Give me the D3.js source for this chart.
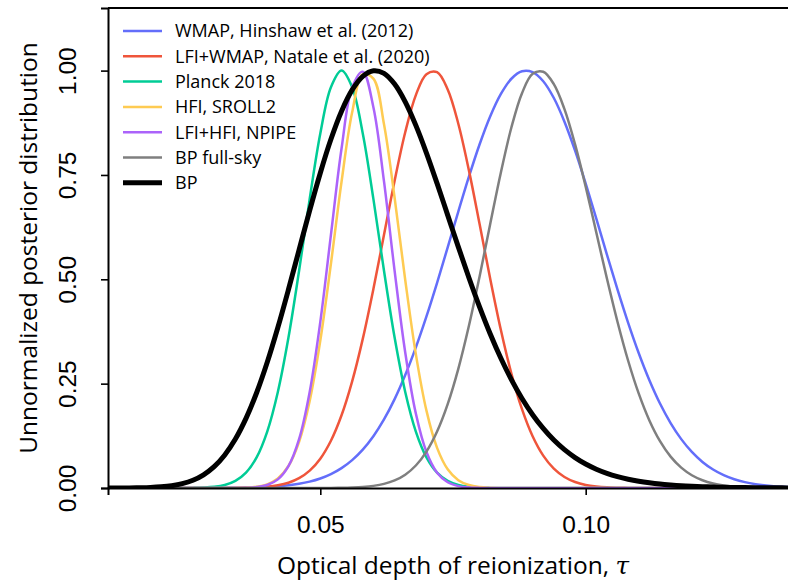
<!DOCTYPE html>
<html>
<head>
<meta charset="utf-8">
<script src="https://cdn.jsdelivr.net/npm/d3@7"></script>
<style>
  body { margin: 0; background: #fff; }
  svg { display: block; font-family: "Open Sans", "DejaVu Sans", sans-serif; }
  .tick-label { font-size: 24.5px; fill: #000; }
  .axis-title { font-size: 24.5px; fill: #000; }
  .legend-label { font-size: 18px; fill: #000; }
</style>
</head>
<body>
<svg id="chart"></svg>
<script>
// optical depth grid (tau)
const tauGrid = [
  0.010, 0.012, 0.014, 0.016, 0.018, 0.020, 0.022, 0.024, 0.026, 0.028,
  0.030, 0.032, 0.034, 0.036, 0.038, 0.040, 0.042, 0.044, 0.046, 0.048,
  0.050, 0.052, 0.054, 0.056, 0.058, 0.060, 0.062, 0.064, 0.066, 0.068,
  0.070, 0.072, 0.074, 0.076, 0.078, 0.080, 0.082, 0.084, 0.086, 0.088,
  0.090, 0.092, 0.094, 0.096, 0.098, 0.100, 0.102, 0.104, 0.106, 0.108,
  0.110, 0.112, 0.114, 0.116, 0.118, 0.120, 0.122, 0.124, 0.126, 0.128,
  0.130, 0.132, 0.134, 0.136, 0.138, 0.140
];

const seriesNames = [
  'WMAP, Hinshaw et al. (2012)',
  'LFI+WMAP, Natale et al. (2020)',
  'Planck 2018',
  'HFI, SROLL2',
  'LFI+HFI, NPIPE',
  'BP full-sky',
  'BP'
];

const wmap = [
  0, 0, 0, 0, 0, 0, 0, 0, 0, 0.0001,
  0.0002, 0.0003, 0.0005, 0.0009, 0.0015, 0.0025, 0.0041, 0.0064, 0.0100, 0.0152,
  0.0227, 0.0332, 0.0476, 0.0668, 0.0920, 0.1242, 0.1643, 0.2129, 0.2706, 0.3369,
  0.4111, 0.4917, 0.5765, 0.6623, 0.7458, 0.8230, 0.8902, 0.9437, 0.9805, 0.9984,
  0.9964, 0.9746, 0.9343, 0.8777, 0.8083, 0.7294, 0.6452, 0.5593, 0.4752, 0.3957,
  0.3229, 0.2583, 0.2025, 0.1556, 0.1171, 0.0865, 0.0625, 0.0443, 0.0308, 0.0210,
  0.0140, 0.0092, 0.0059, 0.0037, 0.0023, 0.0014
];

const lfiWmap = [
  0, 0, 0, 0, 0, 0, 0, 0, 0, 0,
  0, 0.0001, 0.0003, 0.0007, 0.0015, 0.0032, 0.0065, 0.0126, 0.0235, 0.0416,
  0.0703, 0.1133, 0.1742, 0.2554, 0.3573, 0.4767, 0.6065, 0.7362, 0.8524, 0.9413,
  0.9915, 0.9962, 0.9548, 0.8728, 0.7610, 0.6329, 0.5021, 0.3799, 0.2742, 0.1888,
  0.1240, 0.0776, 0.0464, 0.0264, 0.0144, 0.0074, 0.0037, 0.0017, 0.0008, 0.0003,
  0.0001, 0, 0, 0, 0, 0, 0, 0, 0, 0,
  0, 0, 0, 0, 0, 0
];

const planck2018 = [
  0, 0, 0, 0, 0, 0, 0, 0, 0.0003, 0.0010,
  0.0028, 0.0072, 0.0169, 0.0367, 0.0734, 0.1353, 0.2301, 0.3604, 0.5204, 0.6926,
  0.8493, 0.9600, 1.0000, 0.9600, 0.8493, 0.6926, 0.5204, 0.3604, 0.2301, 0.1353,
  0.0734, 0.0367, 0.0169, 0.0072, 0.0028, 0.0010, 0.0003, 0, 0, 0,
  0, 0, 0, 0, 0, 0, 0, 0, 0, 0,
  0, 0, 0, 0, 0, 0, 0, 0, 0, 0,
  0, 0, 0, 0, 0, 0
];

const sroll2 = [
  0, 0, 0, 0, 0, 0, 0, 0, 0, 0,
  0, 0.0001, 0.0003, 0.0009, 0.0030, 0.0087, 0.0226, 0.0527, 0.1107, 0.2086,
  0.3532, 0.5372, 0.7337, 0.9000, 0.9914, 0.9808, 0.8714, 0.6954, 0.4983, 0.3207,
  0.1853, 0.0962, 0.0449, 0.0188, 0.0071, 0.0024, 0.0007, 0.0002, 0.0001, 0,
  0, 0, 0, 0, 0, 0, 0, 0, 0, 0,
  0, 0, 0, 0, 0, 0, 0, 0, 0, 0,
  0, 0, 0, 0, 0, 0
];

const npipe = [
  0, 0, 0, 0, 0, 0, 0, 0, 0, 0,
  0, 0, 0.0001, 0.0006, 0.0022, 0.0072, 0.0207, 0.0524, 0.1170, 0.2301,
  0.3982, 0.6065, 0.8133, 0.9600, 0.9975, 0.9123, 0.7345, 0.5204, 0.3247, 0.1783,
  0.0862, 0.0367, 0.0137, 0.0045, 0.0013, 0.0003, 0.0001, 0, 0, 0,
  0, 0, 0, 0, 0, 0, 0, 0, 0, 0,
  0, 0, 0, 0, 0, 0, 0, 0, 0, 0,
  0, 0, 0, 0, 0, 0
];

const bpFullSky = [
  0, 0, 0, 0, 0, 0, 0, 0, 0, 0,
  0, 0, 0, 0, 0, 0, 0, 0, 0, 0,
  0.0001, 0.0002, 0.0005, 0.0012, 0.0025, 0.0051, 0.0098, 0.0181, 0.0319, 0.0539,
  0.0873, 0.1353, 0.2009, 0.2855, 0.3886, 0.5063, 0.6318, 0.7548, 0.8636, 0.9460,
  0.9922, 0.9973, 0.9675, 0.9076, 0.8232, 0.7219, 0.6121, 0.5018, 0.3978, 0.3049,
  0.2260, 0.1619, 0.1122, 0.0751, 0.0487, 0.0305, 0.0185, 0.0108, 0.0061, 0.0033,
  0.0018, 0.0009, 0.0004, 0.0002, 0.0001, 0
];

const bp = [
  0, 0.0001, 0.0002, 0.0006, 0.0013, 0.0028, 0.0055, 0.0104, 0.0186, 0.0317,
  0.0512, 0.0792, 0.1172, 0.1667, 0.2282, 0.3013, 0.3846, 0.4755, 0.5704, 0.6651,
  0.7549, 0.8355, 0.9028, 0.9537, 0.9863, 0.9996, 0.9934, 0.9677, 0.9251, 0.8688,
  0.8025, 0.7297, 0.6537, 0.5776, 0.5038, 0.4340, 0.3696, 0.3114, 0.2597, 0.2145,
  0.1756, 0.1426, 0.1148, 0.0918, 0.0729, 0.0575, 0.0451, 0.0352, 0.0273, 0.0211,
  0.0162, 0.0124, 0.0094, 0.0072, 0.0054, 0.0041, 0.0031, 0.0023, 0.0017, 0.0013,
  0.0010, 0.0007, 0.0005, 0.0004, 0.0003, 0.0002
];

const xTicks = [0.05, 0.10];
const xTickLabels = ['0.05', '0.10'];
const yTicks = [0, 0.25, 0.5, 0.75, 1.0];
const yTickLabels = ['0.00', '0.25', '0.50', '0.75', '1.00'];

const seriesValues = [wmap, lfiWmap, planck2018, sroll2, npipe, bpFullSky, bp];
const colors = ['#636efa', '#ef553b', '#00cc96', '#fecb52', '#ab63fa', '#7f7f7f', '#000000'];
const widths = [2.5, 2.5, 2.5, 2.5, 2.5, 2.5, 5];

const width = 788, height = 580;
const margin = { top: 8, left: 108, bottom: 92 };
const plotRight = 798; // axes extend past the window edge

const svg = d3.select('#chart')
    .attr('width', width)
    .attr('height', height);

const x = d3.scaleLinear().domain([0.01, 0.14]).range([margin.left, plotRight]);
const y = d3.scaleLinear().domain([0, 1.15]).range([height - margin.bottom, margin.top]);

svg.append('clipPath').attr('id', 'plot-clip')
  .append('rect')
    .attr('x', x.range()[0])
    .attr('y', y.range()[1])
    .attr('width', x.range()[1] - x.range()[0])
    .attr('height', y.range()[0] - y.range()[1]);

const data = seriesNames.map((name, i) => ({
  name,
  color: colors[i],
  width: widths[i],
  values: tauGrid.map((t, j) => ({ tau: t, p: seriesValues[i][j] }))
}));

const line = d3.line()
    .x(d => x(d.tau))
    .y(d => y(d.p))
    .curve(d3.curveCatmullRom.alpha(0.5));

svg.append('g')
    .attr('clip-path', 'url(#plot-clip)')
  .selectAll('path')
  .data(data)
  .join('path')
    .attr('fill', 'none')
    .attr('stroke', d => d.color)
    .attr('stroke-width', d => d.width)
    .attr('stroke-linejoin', 'round')
    .attr('d', d => line(d.values));

// axes (left + bottom with ticks, plain top spine)
const xAxis = d3.axisBottom(x).tickValues(xTicks).tickSize(7).tickFormat((d, i) => xTickLabels[i]);
const yAxis = d3.axisLeft(y).tickValues(yTicks).tickSize(7).tickFormat((d, i) => yTickLabels[i]);

const xAxisG = svg.append('g')
    .attr('transform', `translate(0,${y(0)})`)
    .call(xAxis);
const yAxisG = svg.append('g')
    .attr('transform', `translate(${x(0.01)},0)`)
    .call(yAxis);

[xAxisG, yAxisG].forEach(g => {
  g.select('.domain').attr('stroke', '#000').attr('stroke-width', 2);
  g.selectAll('.tick line').attr('stroke', '#000').attr('stroke-width', 1.6);
  g.selectAll('.tick text').attr('class', 'tick-label').attr('font-family', null).attr('font-size', null);
});

xAxisG.selectAll('.tick text').attr('dy', null).attr('y', 45);
yAxisG.selectAll('.tick text')
    .attr('x', null).attr('dy', null)
    .attr('text-anchor', 'middle')
    .attr('transform', 'translate(-41,0) rotate(-90)')
    .attr('dominant-baseline', 'central');

svg.append('line')
    .attr('x1', x(0.01)).attr('x2', plotRight)
    .attr('y1', y(1.15)).attr('y2', y(1.15))
    .attr('stroke', '#000').attr('stroke-width', 2);

svg.append('text')
    .attr('class', 'axis-title')
    .attr('x', (x.range()[0] + x.range()[1]) / 2)
    .attr('y', 574)
    .attr('text-anchor', 'middle')
    .html('Optical depth of reionization, <tspan font-style="italic" font-family="DejaVu Serif">τ</tspan>');

svg.append('text')
    .attr('class', 'axis-title')
    .attr('transform', `translate(37,${(y.range()[0] + y.range()[1]) / 2}) rotate(-90)`)
    .attr('text-anchor', 'middle')
    .text('Unnormalized posterior distribution');

// legend
const legend = svg.append('g').attr('transform', 'translate(123,31)');
const rows = legend.selectAll('g')
  .data(data)
  .join('g')
    .attr('transform', (d, i) => `translate(0,${i * 25.3})`);
rows.append('line')
    .attr('x1', 0).attr('x2', 39)
    .attr('stroke', d => d.color)
    .attr('stroke-width', d => d.width);
rows.append('text')
    .attr('class', 'legend-label')
    .attr('x', 52)
    .attr('dy', '0.35em')
    .text(d => d.name);
</script>
</body>
</html>
